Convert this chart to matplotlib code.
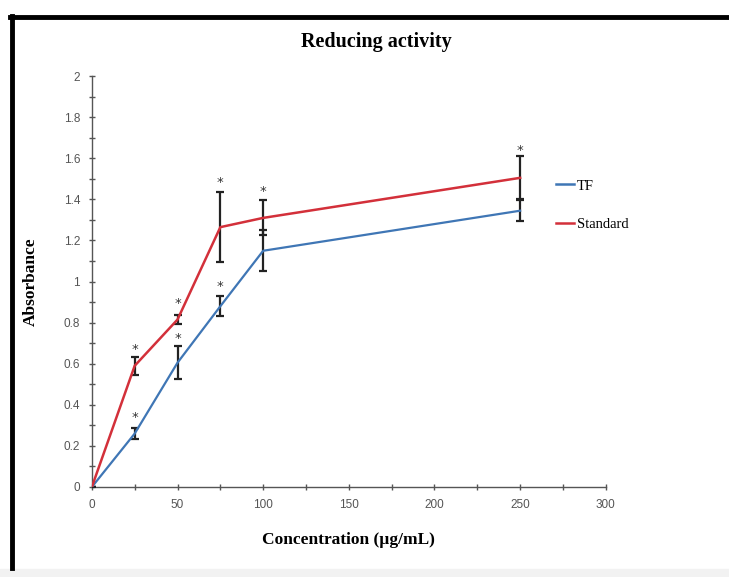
import matplotlib
matplotlib.use('Agg')
import matplotlib.pyplot as plt
from matplotlib.ticker import MultipleLocator
from matplotlib.patches import Rectangle
from matplotlib.lines import Line2D

# 数据
conc = [0, 25, 50, 75, 100, 250]
tf_mean = [0, 0.26, 0.605, 0.88, 1.15, 1.345]
tf_err = [0, 0.025, 0.08, 0.05, 0.10, 0.05]
std_mean = [0, 0.59, 0.815, 1.265, 1.31, 1.505]
std_err = [0, 0.045, 0.02, 0.17, 0.085, 0.105]
star_x = [25, 25, 50, 50, 75, 75, 100, 250]
star_y = [0.34, 0.67, 0.725, 0.895, 0.975, 1.48, 1.44, 1.64]

blue = '#3f76b5'
red = '#d3303a'

fig = plt.figure(figsize=(7.29, 5.77), dpi=100)
ax = fig.add_axes([0.126, 0.156, 0.705, 0.712])

ax.errorbar(conc, tf_mean, yerr=tf_err, color=blue, lw=1.6, ecolor='#222222',
            elinewidth=1.6, capsize=3, capthick=1.6, label='TF', zorder=3)
ax.errorbar(conc, std_mean, yerr=std_err, color=red, lw=1.8, ecolor='#222222',
            elinewidth=1.6, capsize=3, capthick=1.6, label='Standard', zorder=3)
for x, y in zip(star_x, star_y):
    ax.text(x, y, '*', ha='center', va='center', fontsize=9.5, color='#333333')

ax.set_xlim(0, 300)
ax.set_ylim(0, 2)
ax.xaxis.set_major_locator(MultipleLocator(50))
ax.xaxis.set_minor_locator(MultipleLocator(25))
ax.yaxis.set_major_locator(MultipleLocator(0.2))
ax.yaxis.set_minor_locator(MultipleLocator(0.1))
ax.yaxis.set_major_formatter(plt.FuncFormatter(lambda v, p: ('%g' % round(v, 1))))
for s in ['top', 'right']:
    ax.spines[s].set_visible(False)
for s in ['left', 'bottom']:
    ax.spines[s].set_color('#555555')
    ax.spines[s].set_linewidth(1.0)
ax.tick_params(which='both', direction='inout', colors='#555555', labelsize=8.5,
               labelcolor='#555555', width=1.0)
ax.tick_params(which='major', length=5, pad=6)
ax.tick_params(which='minor', length=4)
for lb in ax.get_xticklabels() + ax.get_yticklabels():
    lb.set_family('Liberation Sans')

ax.set_xlabel('Concentration (µg/mL)', family='Liberation Serif', fontweight='bold',
              fontsize=12.5, labelpad=15)
ax.set_ylabel('Absorbance', family='Liberation Serif', fontweight='bold',
              fontsize=12.5, labelpad=18)
fig.text(0.516, 0.927, 'Reducing activity', ha='center', va='center',
         family='Liberation Serif', fontweight='bold', fontsize=14.5)

handles = [Line2D([], [], color=blue, lw=1.8), Line2D([], [], color=red, lw=1.8)]
fig.legend(handles, ['TF', 'Standard'], loc='upper left', bbox_to_anchor=(0.744, 0.712),
           frameon=False, handlelength=1.3, handletextpad=0.15, labelspacing=1.75,
           prop={'family': 'Liberation Serif', 'size': 10.5})

# 外框
fig.add_artist(Line2D([0.016, 0.016], [0.015, 0.972], color='black', lw=3.5,
                      transform=fig.transFigure))
fig.add_artist(Line2D([0.014, 1.0], [0.971, 0.971], color='black', lw=3.5,
                      transform=fig.transFigure))
fig.add_artist(Rectangle((0, 0), 1, 0.013, transform=fig.transFigure,
                         color='#f2f2f2', zorder=-1))

fig.savefig('out.png', dpi=100)
